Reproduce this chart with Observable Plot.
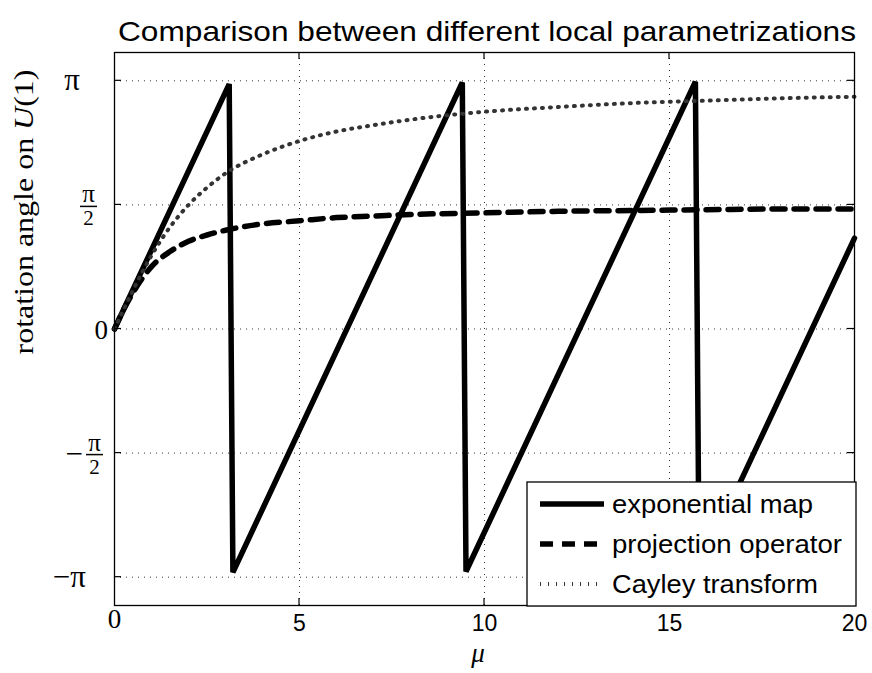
<!DOCTYPE html>
<html><head><meta charset="utf-8">
<script src="https://cdn.jsdelivr.net/npm/d3@7"></script>
<script src="https://cdn.jsdelivr.net/npm/@observablehq/plot@0.6"></script>
<style>body{margin:0;background:#fff}</style>
</head><body><div id="chart"></div>
<script>
// ---- data ----
const expMu    = [0, 3.1, 3.2, 9.4, 9.5, 15.7, 15.8, 20];
const expAngle = [0, 3.10, -3.08, 3.12, -3.07, 3.13, -3.05, 1.15];

const projMu    = [0, 0.25, 0.5, 0.75, 1, 1.5, 2, 2.5, 3, 4, 5, 6, 7, 8, 10, 12, 14, 16, 18, 20];
const projAngle = [0, 0.25, 0.46, 0.64, 0.79, 0.98, 1.11, 1.19, 1.25, 1.33, 1.37, 1.41, 1.43, 1.45, 1.47, 1.49, 1.50, 1.51, 1.52, 1.52];

const cayMu    = [0, 0.25, 0.5, 0.75, 1, 1.5, 2, 2.5, 3, 4, 5, 6, 7, 8, 10, 12, 14, 16, 18, 20];
const cayAngle = [0, 0.25, 0.49, 0.72, 0.93, 1.29, 1.57, 1.79, 1.97, 2.21, 2.38, 2.50, 2.58, 2.65, 2.75, 2.81, 2.86, 2.89, 2.92, 2.94];

const xTicks = [0, 5, 10, 15, 20];
const yTickValues = [-Math.PI, -Math.PI / 2, 0, Math.PI / 2, Math.PI];
const yTickLabels = ["−π", "−π/2", "0", "π/2", "π"];
const seriesNames = ["exponential map", "projection operator", "Cayley transform"];
const titleText = "Comparison between different local parametrizations";
const xLabel = "μ";

// ---- styles ----
const SANS = "'Liberation Sans', Arial, Helvetica, sans-serif";
const SERIF = "'Liberation Serif', 'DejaVu Serif', serif";
const lineStyles = [
  {strokeWidth: 5.5, dash: null, color: "#000"},
  {strokeWidth: 5.5, dash: "13,9", color: "#000"},
  {strokeWidth: 4, dash: "1,7", color: "#333"}
];
const yLabelRight = [86, 103, 108, 97, 80]; // right edge of each y tick label (px)

const zip = (a, b) => a.map((m, i) => ({mu: m, angle: b[i]}));
const expData = zip(expMu, expAngle);
const projData = zip(projMu, projAngle);
const cayData = zip(cayMu, cayAngle);

const chart = Plot.plot({
  width: 872, height: 673,
  marginLeft: 114, marginRight: 18, marginTop: 52, marginBottom: 68,
  x: {domain: [0, 20], axis: null},
  y: {domain: [-3.5, 3.5], axis: null},
  style: {background: "white", overflow: "visible"},
  marks: [
    Plot.gridX(xTicks.slice(1, -1), {stroke: "#000", strokeOpacity: 0.8, strokeDasharray: "1,5", strokeWidth: 1}),
    Plot.gridY(yTickValues, {stroke: "#000", strokeOpacity: 0.8, strokeDasharray: "1,5", strokeWidth: 1}),
    Plot.line(expData, {x: "mu", y: "angle", stroke: lineStyles[0].color, strokeWidth: lineStyles[0].strokeWidth, strokeLinejoin: "miter"}),
    Plot.line(projData, {x: "mu", y: "angle", stroke: lineStyles[1].color, strokeWidth: lineStyles[1].strokeWidth, strokeDasharray: lineStyles[1].dash, curve: "monotone-x"}),
    Plot.line(cayData, {x: "mu", y: "angle", stroke: lineStyles[2].color, strokeWidth: lineStyles[2].strokeWidth, strokeDasharray: lineStyles[2].dash, curve: "monotone-x"}),
    Plot.frame({stroke: "#000", strokeWidth: 1.3}),
    Plot.text(xTicks.filter(d => d !== 0), {x: d => d, frameAnchor: "bottom", dy: 25, text: d => String(d), fontSize: 23, fontFamily: SANS, fill: "#000"}),
    Plot.text(xTicks.filter(d => d === 0), {x: d => d, frameAnchor: "bottom", dy: 22, text: d => String(d), fontSize: 27, fontFamily: SERIF, fill: "#000"})
  ]
});
document.getElementById("chart").appendChild(chart);

// ---- decorations using the Plot scales ----
const svg = d3.select(chart);
const xs = chart.scale("x"), ys = chart.scale("y");
const fx = v => xs.apply(v), fy = v => ys.apply(v);
const L = fx(0), R = fx(20), T = fy(3.5), B = fy(-3.5);
const g = svg.append("g").attr("text-anchor", "start");

// inward ticks
xTicks.forEach(t => {
  if (t <= 0 || t >= 20) return;
  [[B, B - 7], [T, T + 7]].forEach(([a, b]) =>
    g.append("line").attr("x1", fx(t)).attr("x2", fx(t)).attr("y1", a).attr("y2", b).attr("stroke", "#000").attr("stroke-width", 1.2));
});
yTickValues.forEach(v => {
  [[L, L + 7], [R, R - 7]].forEach(([a, b]) =>
    g.append("line").attr("x1", a).attr("x2", b).attr("y1", fy(v)).attr("y2", fy(v)).attr("stroke", "#000").attr("stroke-width", 1.2));
});

// y tick labels (LaTeX-like)
yTickLabels.forEach((lab, i) => {
  const y = fy(yTickValues[i]);
  const r = yLabelRight[i];
  const m = lab.match(/^(−?)(.+)\/(\d)$/);
  if (m) {
    const w = 17, cx = r - w / 2;
    if (m[1]) g.append("text").attr("x", r - w - 3).attr("y", y + 11).attr("text-anchor", "end")
      .attr("font-family", SERIF).attr("font-size", 31).text("−");
    g.append("text").attr("x", cx).attr("y", y - 2).attr("text-anchor", "middle")
      .attr("font-family", SERIF).attr("font-size", 25).text(m[2]);
    g.append("line").attr("x1", r - w).attr("x2", r).attr("y1", y + 2).attr("y2", y + 2)
      .attr("stroke", "#000").attr("stroke-width", 1.5);
    g.append("text").attr("x", cx).attr("y", y + 21).attr("text-anchor", "middle")
      .attr("font-family", SERIF).attr("font-size", 21).text(m[3]);
  } else {
    g.append("text").attr("x", r).attr("y", y + 10).attr("text-anchor", "end")
      .attr("font-family", SERIF).attr("font-size", lab === "0" ? 27 : 31).text(lab);
  }
});

// y axis label
const yl = g.append("text").attr("transform", `translate(33,${212}) rotate(-90)`)
  .attr("text-anchor", "middle").attr("font-family", SERIF).attr("font-size", 28)
  .attr("textLength", 285).attr("lengthAdjust", "spacingAndGlyphs");
yl.append("tspan").text("rotation angle on ");
yl.append("tspan").attr("font-style", "italic").text("U");
yl.append("tspan").text("(1)");

// x axis label
g.append("text").attr("x", (L + R) / 2 - 6).attr("y", 662).attr("text-anchor", "middle")
  .attr("font-family", SERIF).attr("font-style", "italic").attr("font-size", 27).text(xLabel);

// title
g.append("text").attr("x", 487).attr("y", 41).attr("text-anchor", "middle")
  .attr("font-family", SANS).attr("font-size", 28)
  .attr("textLength", 738).attr("lengthAdjust", "spacingAndGlyphs").text(titleText);

// legend
const lg = g.append("g");
const lx0 = 527, ly0 = 482, lx1 = R + 2, ly1 = B + 1;
lg.append("rect").attr("x", lx0).attr("y", ly0).attr("width", lx1 - lx0).attr("height", ly1 - ly0)
  .attr("fill", "#fff").attr("stroke", "#000").attr("stroke-width", 1.3);
const rowY = [504, 544, 584];
const textLens = [201, 230, 206];
seriesNames.forEach((name, i) => {
  const st = lineStyles[i];
  const ln = lg.append("line").attr("x1", 540).attr("x2", 604).attr("y1", rowY[i]).attr("y2", rowY[i])
    .attr("stroke", st.color).attr("stroke-width", st.strokeWidth);
  if (st.dash) ln.attr("stroke-dasharray", st.dash);
  lg.append("text").attr("x", 612).attr("y", rowY[i] + 9).attr("text-anchor", "start")
    .attr("font-family", SANS).attr("font-size", 25)
    .attr("textLength", textLens[i]).attr("lengthAdjust", "spacingAndGlyphs").text(name);
});
</script>
</body></html>
